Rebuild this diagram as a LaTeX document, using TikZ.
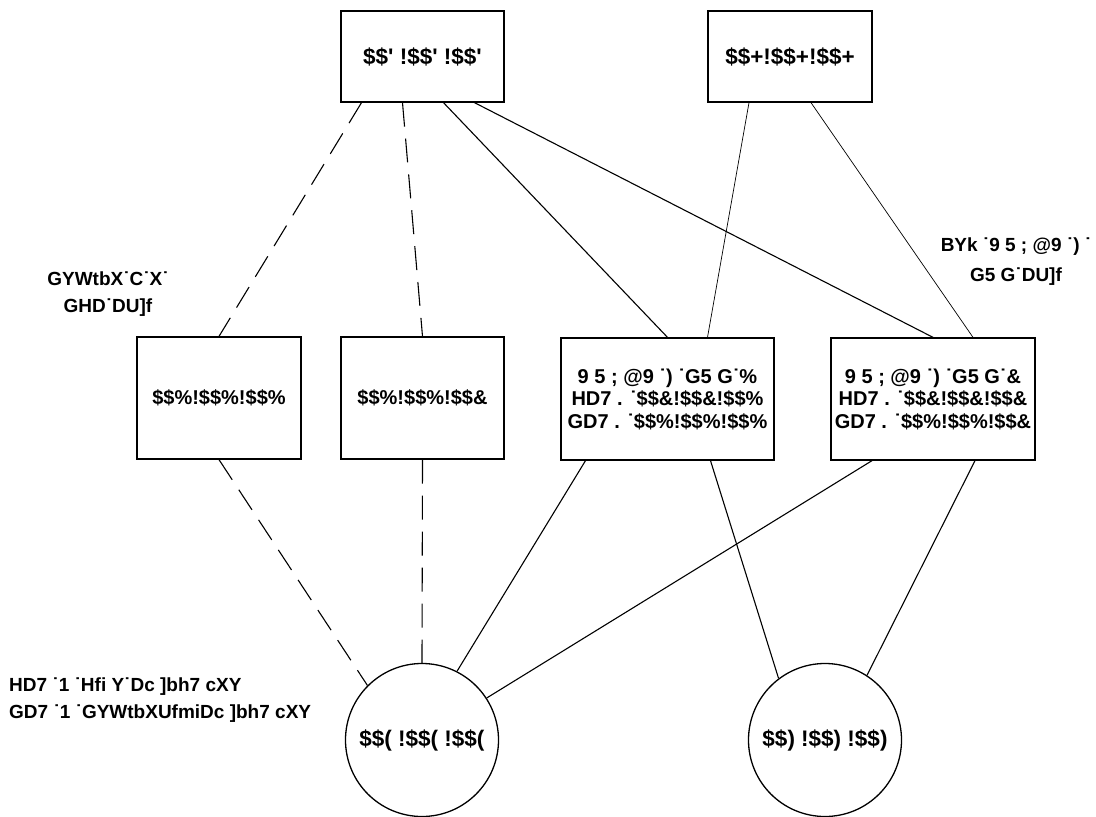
\documentclass[tikz,border=0pt]{standalone}
\usepackage{fontspec}
\setmainfont{Liberation Sans}[Ligatures=TeXOff]
\begin{document}
\begin{tikzpicture}[x=1pt,y=-1pt,
  txt/.style={font=\fontsize{20}{22.5}\selectfont\bfseries},
  bigtxt/.style={font=\fontsize{22.5}{25}\selectfont\bfseries},
  box/.style={txt,draw,line width=1.3pt,rectangle,inner sep=0pt,align=center},
  circ/.style={bigtxt,draw,line width=1.3pt,circle,inner sep=0pt,minimum size=153pt},
  lbl/.style={inner sep=0pt},
  solidln/.style={line width=1.1pt},
  thinln/.style={line width=0.7pt},
  dashln/.style={line width=1.1pt,dash pattern=on 24pt off 12pt}]
\useasboundingbox[fill=white] (0,0) rectangle (1096,817);
% nodes
\node[box,bigtxt,minimum width=163pt,minimum height=91pt] (top1) at (422.5,56.5) {\$\$' !\$\$' !\$\$'};
\node[box,bigtxt,minimum width=164pt,minimum height=91pt] (top2) at (790,56.5) {\$\$+!\$\$+!\$\$+};
\node[box,minimum width=164pt,minimum height=122pt] (mid1) at (219,398) {\$\$\%!\$\$\%!\$\$\%};
\node[box,minimum width=163pt,minimum height=122pt] (mid2) at (422.5,398) {\$\$\%!\$\$\%!\$\$\&};
\node[box,minimum width=213pt,minimum height=122pt] (mid3) at (667.5,399)
  {9 5 ;  @9 ˙) ˙G5 G˙\%\\HD7 . ˙\$\$\&!\$\$\&!\$\$\%\\GD7 . ˙\$\$\%!\$\$\%!\$\$\%};
\node[box,minimum width=204pt,minimum height=122pt] (mid4) at (933,399)
  {9 5 ;  @9 ˙) ˙G5 G˙\&\\HD7 . ˙\$\$\&!\$\$\&!\$\$\&\\GD7 . ˙\$\$\%!\$\$\%!\$\$\&};
\node[circ] (c1) at (422,740) {\$\$( !\$\$( !\$\$(};
\node[circ] (c2) at (825,740) {\$\$) !\$\$) !\$\$)};
% labels
\node[lbl,align=center,font=\fontsize{19}{27}\selectfont\bfseries] (lab1) at (108,294) {GYWtbX˙C˙X˙\\GHD˙DU]f};
\node[lbl,align=center,font=\fontsize{19}{30}\selectfont\bfseries] (lab2) at (1016,262) {BYk ˙9 5 ;  @9 ˙) ˙\\G5 G˙DU]f};
\node[lbl,align=left,anchor=west,font=\fontsize{19}{27}\selectfont\bfseries] (lab3) at (9,700) {HD7 ˙1 ˙Hfi  Y˙Dc ]bh7 cXY\\GD7 ˙1 ˙GYWtbXUfmiDc ]bh7 cXY};
% connectors
\draw[dashln] ([xshift=-61pt]top1.south) -- (mid1.north);
\draw[dashln] ([xshift=-20pt]top1.south) -- (mid2.north);
\draw[solidln] ([xshift=21pt]top1.south) -- (mid3.north);
\draw[solidln] ([xshift=52pt]top1.south) -- (mid4.north);
\draw[thinln] ([xshift=-41pt]top2.south) -- ([xshift=40pt]mid3.north);
\draw[thinln] ([xshift=21pt]top2.south) -- ([xshift=40pt]mid4.north);
\draw[dashln] (mid1.south) -- (c1.135);
\draw[dashln] (mid2.south) -- (c1.north);
\draw[solidln] ([xshift=-82pt]mid3.south) -- (c1.63);
\draw[solidln] ([xshift=-61pt]mid4.south) -- (c1.33);
\draw[solidln] ([xshift=43pt]mid3.south) -- (c2.127);
\draw[solidln] ([xshift=42pt]mid4.south) -- (c2.57);
\end{tikzpicture}
\end{document}
